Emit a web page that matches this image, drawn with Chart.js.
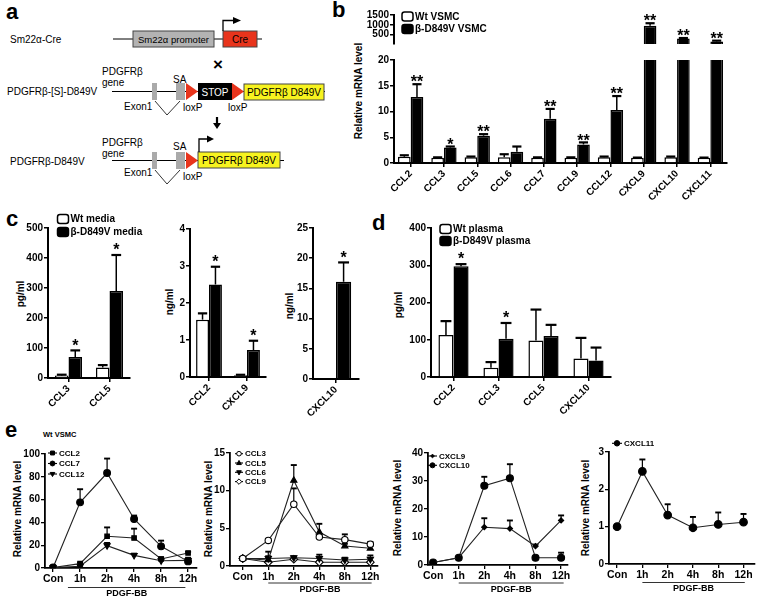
<!DOCTYPE html>
<html lang="en">
<head>
<meta charset="UTF-8">
<title>PDGFRb D849V chemokines</title>
<script src="https://cdn.jsdelivr.net/npm/chart.js"></script>
<style>
  body { margin: 0; background: #fff; font-family: "Liberation Sans", Arial, sans-serif; }
  #page { position: relative; width: 762px; height: 604px; overflow: hidden; }
  canvas { position: absolute; }
  .t { position: absolute; white-space: nowrap; color: #000; font-weight: bold; }
  .yt { position: absolute; white-space: nowrap; font-weight: bold; font-size: 10px; transform: translate(-50%, -50%) rotate(-90deg); }
</style>
</head>
<body>
<div id="page">
  <!-- panel a: construct schematic -->
  <svg width="335" height="195" style="position:absolute;left:0;top:0" font-family="Liberation Sans, Arial, sans-serif" font-size="10">
    <text x="10" y="42.6">Sm22α-Cre</text>
    <line x1="113" y1="39" x2="262" y2="39" stroke="#000"/>
    <rect x="133" y="31" width="81" height="16" fill="#b3b3b3" stroke="#444"/>
    <text x="173.5" y="42.5" text-anchor="middle" font-size="9.5">Sm22α promoter</text>
    <rect x="223" y="31" width="34" height="16" fill="#e8341c" stroke="#444"/>
    <text x="240" y="42.5" text-anchor="middle">Cre</text>
    <polyline points="223,31 223,20.5 234,20.5" fill="none" stroke="#000" stroke-width="1.3"/>
    <polygon points="233,17 241,20.5 233,24" fill="#000"/>
    <text x="218" y="69.6" text-anchor="middle" font-size="17" font-weight="bold">×</text>

    <text x="102" y="74.5">PDGFRβ</text>
    <text x="102" y="86">gene</text>
    <text x="7" y="94.6">PDGFRβ-[S]-D849V</text>
    <line x1="112" y1="91.5" x2="325" y2="91.5" stroke="#000"/>
    <rect x="152" y="83" width="5" height="17" fill="#aaa"/>
    <rect x="176" y="83" width="9" height="17" fill="#aaa"/>
    <text x="173" y="82.5">SA</text>
    <polygon points="186,83 198,91.5 186,100" fill="#e8341c"/>
    <rect x="198" y="83" width="34" height="17" fill="#000"/>
    <text x="215" y="95.5" text-anchor="middle" fill="#fff">STOP</text>
    <polygon points="232,83 244,91.5 232,100" fill="#e8341c"/>
    <rect x="244" y="84" width="80" height="16" fill="#f7f31f" stroke="#444"/>
    <text x="284" y="95.5" text-anchor="middle">PDGFRβ D849V</text>
    <text x="124" y="109.5">Exon1</text>
    <polyline points="155,101 167,115 180,101" fill="none" stroke="#000" stroke-width="0.8"/>
    <text x="183" y="110.5">loxP</text>
    <text x="228" y="110.5">loxP</text>
    <line x1="217" y1="117" x2="217" y2="124" stroke="#000" stroke-width="2.2"/>
    <polygon points="213,123 221,123 217,129" fill="#000"/>

    <text x="102" y="145.5">PDGFRβ</text>
    <text x="102" y="157">gene</text>
    <text x="10" y="164.6">PDGFRβ-D849V</text>
    <line x1="112" y1="160.5" x2="284" y2="160.5" stroke="#000"/>
    <rect x="152" y="152" width="5" height="17" fill="#aaa"/>
    <rect x="176" y="152" width="9" height="17" fill="#aaa"/>
    <text x="173" y="150">SA</text>
    <polygon points="186,152 198,160.5 186,169" fill="#e8341c"/>
    <rect x="198" y="152" width="82" height="16" fill="#f7f31f" stroke="#444"/>
    <text x="239" y="164" text-anchor="middle">PDGFRβ D849V</text>
    <polyline points="199,152 199,139 208,139" fill="none" stroke="#000" stroke-width="1.3"/>
    <polygon points="207,135.5 214,139 207,142.5" fill="#000"/>
    <text x="124" y="176">Exon1</text>
    <polyline points="155,170 167,184 180,170" fill="none" stroke="#000" stroke-width="0.8"/>
    <text x="183" y="180">loxP</text>
  </svg>

  <div class="t" style="left:6px;top:1px;font-size:22px;line-height:22px">a</div>
  <div class="t" style="left:332px;top:-1px;font-size:22px;line-height:22px">b</div>
  <div class="t" style="left:6px;top:208px;font-size:22px;line-height:22px">c</div>
  <div class="t" style="left:372px;top:212px;font-size:22px;line-height:22px">d</div>
  <div class="t" style="left:5px;top:419px;font-size:22px;line-height:22px">e</div>
  <div class="t" style="left:43px;top:431px;font-size:7.5px;line-height:8px">Wt VSMC</div>

  <div class="yt" style="left:358px;top:91px">Relative mRNA level</div>
  <div class="yt" style="left:20px;top:294px">pg/ml</div>
  <div class="yt" style="left:169px;top:302px">ng/ml</div>
  <div class="yt" style="left:289px;top:306px">ng/ml</div>
  <div class="yt" style="left:398px;top:305px">pg/ml</div>
  <div class="yt" style="left:17px;top:509px">Relative mRNA level</div>
  <div class="yt" style="left:208px;top:509px">Relative mRNA level</div>
  <div class="yt" style="left:397px;top:508px">Relative mRNA level</div>
  <div class="yt" style="left:585px;top:508px">Relative mRNA level</div>

  <canvas id="bTop"></canvas>
  <canvas id="bLow"></canvas>
  <canvas id="c1"></canvas>
  <canvas id="c2"></canvas>
  <canvas id="c3"></canvas>
  <canvas id="dChart"></canvas>
  <canvas id="e1"></canvas>
  <canvas id="e2"></canvas>
  <canvas id="e3"></canvas>
  <canvas id="e4"></canvas>
</div>

<script>
// ---- data: b (VSMC mRNA) ----
const bCats = ['CCL2', 'CCL3', 'CCL5', 'CCL6', 'CCL7', 'CCL9', 'CCL12', 'CXCL9', 'CXCL10', 'CXCL11'];
const bWt = [1.2, 1.0, 1.1, 1.1, 1.0, 1.0, 1.1, 1.0, 1.1, 1.0];
const bWtErr = [0.3, 0.1, 0.15, 0.6, 0.1, 0.1, 0.15, 0.05, 0.15, 0.05];
const bMut = [12.8, 3.0, 5.3, 2.2, 8.6, 3.6, 10.3, 950, 300, 150];
const bMutErr = [2.5, 0.2, 0.3, 1.0, 1.9, 0.4, 2.7, 130, 25, 40];
const bStars = ['**', '*', '**', '', '**', '**', '**', '**', '**', '**'];
const bNames = ['Wt VSMC', 'β-D849V VSMC'];
const bTopTicks = [500, 1000, 1500];

// ---- data: c (media) ----
const cNames = ['Wt media', 'β-D849V media'];
const c1Cats = ['CCL3', 'CCL5'];
const c1Wt = [8, 35], c1WtErr = [3, 8];
const c1Mut = [70, 290], c1MutErr = [22, 120];
const c1Stars = ['*', '*'];
const c2Cats = ['CCL2', 'CXCL9'];
const c2Wt = [1.55, 0.05], c2WtErr = [0.17, 0.01];
const c2Mut = [2.5, 0.73], c2MutErr = [0.48, 0.25];
const c2Stars = ['*', '*'];
const c3Cats = ['CXCL10'];
const c3Wt = [0.1], c3WtErr = [0];
const c3Mut = [16.1], c3MutErr = [3.2];
const c3Stars = ['*'];

// ---- data: d (plasma) ----
const dNames = ['Wt plasma', 'β-D849V plasma'];
const dCats = ['CCL2', 'CCL3', 'CCL5', 'CXCL10'];
const dWt = [113, 25, 98, 50], dWtErr = [37, 15, 83, 55];
const dMut = [297, 103, 110, 44], dMutErr = [6, 42, 30, 35];
const dStars = ['*', '*', '', ''];

// ---- data: e (time course, Wt VSMC + PDGF-BB) ----
const eTimes = ['Con', '1h', '2h', '4h', '8h', '12h'];
const eBarText = 'PDGF-BB';
const eCCL2 = [0.5, 3.8, 27.8, 26.3, 7.9, 13.2], eCCL2Err = [0.3, 1.0, 7.8, 8.2, 1.5, 1.0];
const eCCL7 = [0.5, 57.6, 83.3, 43, 19, 5.8], eCCL7Err = [0.3, 11.5, 12.7, 3, 5, 1];
const eCCL12 = [0.3, 1.5, 19.6, 11.1, 6.4, 6.7], eCCL12Err = [0.2, 0.5, 2.4, 1.5, 1, 2.3];
const eCCL3 = [1.0, 3.4, 8.2, 3.85, 3.5, 2.9], eCCL3Err = [0.1, 0.2, 2.1, 0.3, 0.7, 0.3];
const eCCL5 = [1.0, 0.8, 11.35, 4.5, 2.65, 2.35], eCCL5Err = [0.1, 1.1, 2.05, 1.1, 0.3, 0.3];
const eCCL6 = [1.0, 1.0, 1.1, 1.0, 0.8, 0.9], eCCL6Err = [0.1, 0.3, 0.2, 0.5, 0.3, 0.5];
const eCCL9 = [1.0, 0.5, 0.9, 0.5, 0.5, 0.5], eCCL9Err = [0.1, 0.1, 0.1, 0.2, 0.1, 0.1];
const eCXCL9 = [0.9, 2.6, 13.5, 13.0, 6.7, 15.9], eCXCL9Err = [0.4, 0.3, 3.2, 2.9, 0.6, 1.8];
const eCXCL10 = [0.9, 2.6, 28.3, 31.0, 2.6, 2.6], eCXCL10Err = [0.4, 0.3, 3.2, 5.0, 0.3, 1.8];
const eCXCL11 = [1.0, 2.48, 1.31, 0.97, 1.06, 1.12], eCXCL11Err = [0.03, 0.32, 0.29, 0.29, 0.32, 0.22];

const FONT = '"Liberation Sans", Arial, sans-serif';
Chart.defaults.font.family = FONT;
Chart.defaults.font.weight = 'bold';
Chart.defaults.color = '#000';

function mark(ctx, style, r, rot, x, y) {
  ctx.beginPath();
  if (style === 'rect') {
    ctx.rect(x - r * 0.85, y - r * 0.85, r * 1.7, r * 1.7);
  } else if (style === 'rectRot') {
    ctx.moveTo(x, y - r); ctx.lineTo(x + r, y); ctx.lineTo(x, y + r); ctx.lineTo(x - r, y); ctx.closePath();
  } else if (style === 'triangle') {
    const s = rot ? -1 : 1;
    ctx.moveTo(x, y - s * r); ctx.lineTo(x + r * 0.9, y + s * r * 0.6); ctx.lineTo(x - r * 0.9, y + s * r * 0.6); ctx.closePath();
  } else {
    ctx.arc(x, y, r, 0, Math.PI * 2);
  }
  ctx.fill(); ctx.stroke();
}

// error bars (upward only) + significance stars
function paintErr(chart, o) {
  const ctx = chart.ctx, ys = chart.scales.y;
  const lw = o.lw || 1.5, size = o.starSize || 16;
  ctx.save();
  ctx.strokeStyle = '#000';
  chart.data.datasets.forEach((ds, i) => {
    if (!ds.errs) return;
    chart.getDatasetMeta(i).data.forEach((el, j) => {
      const d = ds.data[j];
      const v = typeof d === 'object' ? d.y : d;
      const e = ds.errs[j];
      if (v >= ys.max || (ys.min > 0 && v <= ys.min)) return;
      const top = ys.getPixelForValue(v + e);
      if (e > 0) {
        const half = el.width ? el.width * (o.cap || 0.36) : (o.capPx || 3);
        ctx.lineWidth = lw;
        ctx.beginPath(); ctx.moveTo(el.x, el.y); ctx.lineTo(el.x, top); ctx.stroke();
        ctx.lineWidth = lw + 0.7;
        ctx.beginPath(); ctx.moveTo(el.x - half, top); ctx.lineTo(el.x + half, top); ctx.stroke();
      }
      const s = ds.stars && ds.stars[j];
      if (s) {
        ctx.fillStyle = '#000';
        ctx.font = 'bold ' + size + 'px ' + FONT;
        ctx.textAlign = 'center';
        ctx.textBaseline = 'alphabetic';
        ctx.fillText(s, el.x, top - (o.starGap || 6) + 0.573 * size);
      }
    });
  });
  ctx.restore();
}

const errBars = {
  id: 'errBars',
  beforeDatasetsDraw(chart, args, o) { if (o.under) paintErr(chart, o); },
  afterDatasetsDraw(chart, args, o) { if (!o.under) paintErr(chart, o); }
};

// small legend placed inside the plot, GraphPad style
const boxLegend = {
  id: 'boxLegend',
  afterDraw(chart, args, o) {
    if (o.x === undefined) return;
    const ctx = chart.ctx, ca = chart.chartArea;
    ctx.save();
    ctx.font = 'bold ' + o.size + 'px ' + FONT;
    ctx.textBaseline = 'middle';
    ctx.textAlign = 'left';
    chart.data.datasets.forEach((ds, k) => {
      const x = ca.left + o.x, y = ca.top + o.y + k * o.row;
      let tx;
      ctx.strokeStyle = '#000';
      if (o.kind === 'bar') {
        ctx.lineWidth = 1.5;
        ctx.fillStyle = ds.backgroundColor;
        ctx.beginPath(); ctx.roundRect(x, y - 4.5, 11, 9, 2.5); ctx.fill(); ctx.stroke();
        tx = x + 13;
      } else {
        ctx.lineWidth = 1.1;
        ctx.beginPath(); ctx.moveTo(x, y); ctx.lineTo(x + o.len, y); ctx.stroke();
        ctx.fillStyle = ds.pointBackgroundColor;
        ctx.lineWidth = 1;
        mark(ctx, ds.pointStyle, ds.pointRadius * 0.72, ds.pointRotation, x + o.len / 2, y);
        tx = x + o.len + 2;
      }
      ctx.fillStyle = '#000';
      ctx.fillText(ds.label, tx, y + 0.5);
    });
    ctx.restore();
  }
};

// "PDGF-BB" bracket under the time axis
const pdgf = {
  id: 'pdgf',
  afterDraw(chart, args, o) {
    if (o.text === undefined) return;
    const ctx = chart.ctx, xs = chart.scales.x;
    const x0 = xs.getPixelForValue(o.from), x1 = xs.getPixelForValue(o.to);
    const y = chart.chartArea.bottom + o.dy;
    ctx.save();
    ctx.strokeStyle = '#333'; ctx.lineWidth = 1;
    ctx.beginPath(); ctx.moveTo(x0, y); ctx.lineTo(x1, y); ctx.stroke();
    ctx.fillStyle = '#000';
    ctx.font = 'bold 9px ' + FONT;
    ctx.textAlign = 'center'; ctx.textBaseline = 'top';
    ctx.fillText(o.text, (x0 + x1) / 2, y + 2);
    ctx.restore();
  }
};

Chart.register(errBars, boxLegend, pdgf);

// place a canvas so the plot area lands on the given page box
function mk(id, b, config) {
  const c = document.getElementById(id);
  const pt = b.pt || 12, pr = b.pr || 8, pb = b.pb || 0, xH = b.xH || 0;
  c.width = Math.round(b.r - b.l + b.yW + pr);
  c.height = Math.round(b.b - b.t + pt + xH + pb);
  c.style.left = (b.l - b.yW) + 'px';
  c.style.top = (b.t - pt) + 'px';
  const o = config.options;
  o.responsive = false;
  o.animation = false;
  o.devicePixelRatio = 1;
  o.layout = { padding: { top: pt, right: pr, bottom: pb, left: 0 } };
  o.scales.y.afterFit = s => { s.width = b.yW; };
  if (o.scales.x.display !== false) o.scales.x.afterFit = s => { s.height = xH; };
  o.plugins.legend = { display: false };
  o.plugins.tooltip = { enabled: false };
  return new Chart(c, config);
}

function axis(lw) {
  return {
    grid: { drawOnChartArea: false, drawTicks: true, tickLength: 4, color: '#000', lineWidth: lw, offset: false },
    border: { color: '#000', width: lw + 0.5 }
  };
}

function barChart(id, box, s) {
  return mk(id, box, {
    type: 'bar',
    data: {
      labels: s.cats,
      datasets: [
        { label: s.names[0], data: s.wt, errs: s.wtErr, backgroundColor: '#fff', borderColor: '#000', borderWidth: 1.5 },
        { label: s.names[1], data: s.mut, errs: s.mutErr, stars: s.stars, backgroundColor: '#000', borderColor: '#000', borderWidth: 1.5 }
      ]
    },
    options: {
      datasets: { bar: { categoryPercentage: s.cp, barPercentage: 1 } },
      scales: {
        x: s.hideX ? { display: false } : Object.assign(axis(1.5), {
          ticks: { font: { size: 10, weight: 'bold' }, minRotation: 45, maxRotation: 45, autoSkip: false, padding: 1 }
        }),
        y: Object.assign(axis(1.5), s.y)
      },
      plugins: {
        errBars: { cap: 0.36, lw: 1.5, starGap: s.starGap, starSize: 16 },
        boxLegend: s.legend || {}
      }
    }
  });
}

function yTicks(min, max, step, size) {
  return {
    min: min, max: max,
    ticks: { stepSize: step, font: { size: size || 10, weight: 'bold' }, padding: 1, callback: v => String(v) }
  };
}

// ---- b: broken y axis = two charts ----
barChart('bTop', { l: 394, t: 15, r: 727, b: 48.5, yW: 40, pt: 15, pb: 2 }, {
  cats: bCats, names: bNames, wt: bWt, wtErr: bWtErr, mut: bMut, mutErr: bMutErr, stars: bStars,
  cp: 0.76, hideX: true, starGap: 6,
  y: Object.assign(yTicks(20, 1500, 500), { afterBuildTicks: s => { s.ticks = bTopTicks.map(v => ({ value: v })); } }),
  legend: { kind: 'bar', x: 8, y: 1.5, row: 12.5, size: 10 }
});
barChart('bLow', { l: 394, t: 60, r: 727, b: 163, yW: 40, xH: 52, pt: 8 }, {
  cats: bCats, names: bNames, wt: bWt, wtErr: bWtErr, mut: bMut, mutErr: bMutErr, stars: bStars,
  cp: 0.76, starGap: 6, y: yTicks(0, 20, 5)
});

// ---- c ----
barChart('c1', { l: 47.5, t: 228, r: 129.5, b: 378, yW: 40, xH: 45, pt: 26, pr: 60 }, {
  cats: c1Cats, names: cNames, wt: c1Wt, wtErr: c1WtErr, mut: c1Mut, mutErr: c1MutErr, stars: c1Stars,
  cp: 0.66, starGap: 9, y: yTicks(0, 500, 100),
  legend: { kind: 'bar', x: 9.5, y: -9, row: 13, size: 10 }
});
barChart('c2', { l: 190, t: 229, r: 266, b: 377, yW: 30, xH: 45 }, {
  cats: c2Cats, names: cNames, wt: c2Wt, wtErr: c2WtErr, mut: c2Mut, mutErr: c2MutErr, stars: c2Stars,
  cp: 0.68, starGap: 9, y: yTicks(0, 4, 1)
});
barChart('c3', { l: 313, t: 228, r: 359, b: 378.5, yW: 30, xH: 45 }, {
  cats: c3Cats, names: cNames, wt: c3Wt, wtErr: c3WtErr, mut: c3Mut, mutErr: c3MutErr, stars: c3Stars,
  cp: 0.66, starGap: 9, y: yTicks(0, 25, 5)
});

// ---- d ----
barChart('dChart', { l: 431, t: 228, r: 611, b: 377, yW: 30, xH: 45, pt: 14 }, {
  cats: dCats, names: dNames, wt: dWt, wtErr: dWtErr, mut: dMut, mutErr: dMutErr, stars: dStars,
  cp: 0.67, starGap: 9, y: yTicks(0, 400, 100),
  legend: { kind: 'bar', x: 9, y: 1, row: 12, size: 10 }
});

// ---- e: time courses ----
function series(label, vals, errs, style, r, open, rot) {
  return {
    label: label,
    data: vals.map((v, i) => ({ x: i, y: v })),
    errs: errs,
    borderColor: '#222', borderWidth: 1.1, tension: 0,
    pointStyle: style, pointRadius: r, pointRotation: rot || 0,
    pointBackgroundColor: open ? '#fff' : '#000', pointBorderColor: '#000', pointBorderWidth: 1.1
  };
}

function lineChart(id, box, s) {
  return mk(id, box, {
    type: 'line',
    data: { datasets: s.sets },
    options: {
      scales: {
        x: Object.assign(axis(1.3), {
          type: 'linear', min: s.xMin, max: s.xMax,
          afterBuildTicks: a => { a.ticks = eTimes.map((t, i) => ({ value: i })); },
          ticks: { autoSkip: false, maxRotation: 0, padding: 1, font: { size: 10.5, weight: 'bold' }, callback: v => eTimes[v] }
        }),
        y: Object.assign(axis(1.3), yTicks(0, s.yMax, s.yStep, 10))
      },
      plugins: {
        errBars: { under: true, capPx: 3, lw: 1.2 },
        boxLegend: s.legend,
        pdgf: { from: s.bar[0], to: s.bar[1], dy: s.bar[2], text: eBarText }
      }
    }
  });
}

lineChart('e1', { l: 45, t: 454, r: 197, b: 568, yW: 34, xH: 20, pt: 12, pr: 6, pb: 32 }, {
  sets: [
    series('CCL2', eCCL2, eCCL2Err, 'rect', 3.2),
    series('CCL7', eCCL7, eCCL7Err, 'circle', 3.4),
    series('CCL12', eCCL12, eCCL12Err, 'triangle', 3.6, false, 180)
  ],
  xMin: -0.3, xMax: 5.33, yMax: 100, yStep: 20,
  legend: { kind: 'line', x: 3, y: -1, row: 10.5, len: 9, size: 8 },
  bar: [0.55, 4.9, 19.5]
});
lineChart('e2', { l: 230, t: 453.3, r: 378, b: 566.7, yW: 30, xH: 20, pt: 12, pr: 6, pb: 34 }, {
  sets: [
    series('CCL3', eCCL3, eCCL3Err, 'circle', 3.2, true),
    series('CCL5', eCCL5, eCCL5Err, 'triangle', 3.6),
    series('CCL6', eCCL6, eCCL6Err, 'triangle', 3.6, false, 180),
    series('CCL9', eCCL9, eCCL9Err, 'rectRot', 3.8, true)
  ],
  xMin: -0.5, xMax: 5.3, yMax: 15, yStep: 5,
  legend: { kind: 'line', x: 5, y: 0.7, row: 9.3, len: 8, size: 8 },
  bar: [1, 5.05, 17]
});
lineChart('e3', { l: 428, t: 452.7, r: 568, b: 565, yW: 30, xH: 20, pt: 12, pr: 6, pb: 34 }, {
  sets: [
    series('CXCL9', eCXCL9, eCXCL9Err, 'rectRot', 2.6),
    series('CXCL10', eCXCL10, eCXCL10Err, 'circle', 3.5)
  ],
  xMin: -0.2, xMax: 5.27, yMax: 40, yStep: 10,
  legend: { kind: 'line', x: 0, y: 3, row: 9.3, len: 9, size: 8 },
  bar: [1, 5.1, 18]
});
lineChart('e4', { l: 609, t: 451.7, r: 755, b: 564, yW: 30, xH: 20, pt: 16, pr: 5, pb: 34 }, {
  sets: [
    series('CXCL11', eCXCL11, eCXCL11Err, 'circle', 3.8)
  ],
  xMin: -0.32, xMax: 5.45, yMax: 3, yStep: 1,
  legend: { kind: 'line', x: 3, y: -8.7, row: 10, len: 10, size: 8 },
  bar: [1, 5.05, 18.5]
});
</script>
</body>
</html>
